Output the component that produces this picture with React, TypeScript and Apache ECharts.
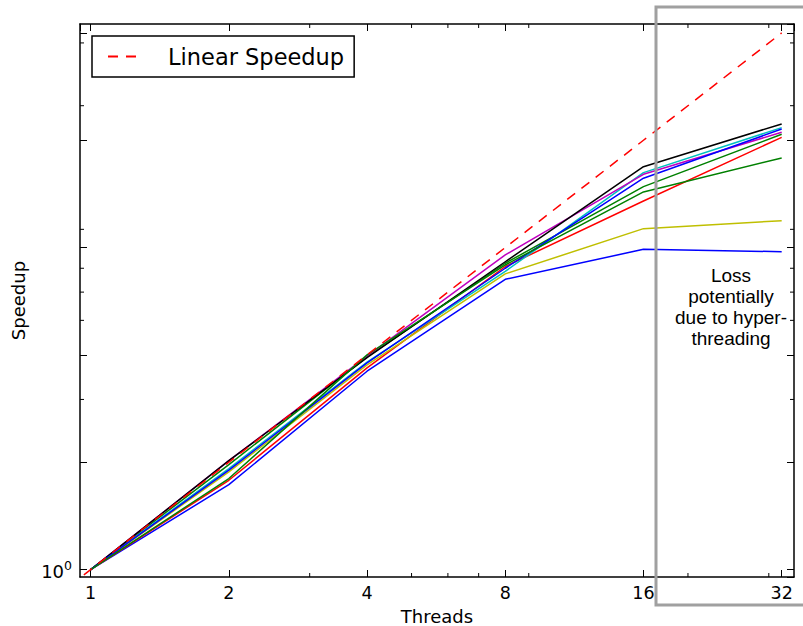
import React, { useEffect, useRef } from "react";
import * as echarts from "echarts";

// ---- data ----
const threads = [1, 2, 4, 8, 16, 32];
const linearThreads = [0.9, 1, 2, 4, 8, 16, 32];
const linearSpeedup = [0.9, 1, 2, 4, 8, 16, 32];

const blueA = [1, 1.73, 3.6, 6.52, 7.91, 7.79];
const greenA = [1, 1.97, 3.95, 7.23, 11.86, 16.63];
const redA = [1, 1.78, 3.68, 7.08, 10.81, 16.3];
const cyanA = [1, 1.92, 3.82, 6.86, 12.98, 17.36];
const magentaA = [1, 2.02, 3.97, 7.63, 12.84, 16.85];
const yellowA = [1, 1.88, 3.75, 6.75, 9.04, 9.52];
const blackA = [1, 2.02, 3.93, 7.3, 13.49, 17.78];
const blueB = [1, 1.9, 3.8, 7.0, 12.52, 17.2];
const greenB = [1, 1.8, 4.0, 7.15, 11.46, 14.27];

const seriesList = [
  { values: blueA, color: "#0000ff" },
  { values: greenA, color: "#008000" },
  { values: redA, color: "#ff0000" },
  { values: cyanA, color: "#00bfbf" },
  { values: magentaA, color: "#bf00bf" },
  { values: yellowA, color: "#bfbf00" },
  { values: blackA, color: "#000000" },
  { values: blueB, color: "#0000ff" },
  { values: greenB, color: "#008000" },
];

const minorTicks = [3, 5, 6, 7, 9, 20, 30];
const xLabelText = "Threads";
const yLabelText = "Speedup";
const legendText = "Linear Speedup";
const noteText = "Loss\npotentially\ndue to hyper-\nthreading";

const X_MIN = 0.948;
const X_MAX = 34.04;
const Y_MIN = 0.953;
const Y_MAX = 33.9;

const isPow2 = (v: number) => {
  const l = Math.log2(v);
  return Math.abs(l - Math.round(l)) < 1e-6;
};

export default function App() {
  const ref = useRef<HTMLDivElement>(null);
  useEffect(() => {
    if (!ref.current) return;
    const chart = echarts.init(ref.current, null, { renderer: "svg" });
    const tickFont = { fontFamily: "DejaVu Sans", fontSize: 17.5, color: "#000" };
    const axisLine = { show: true, lineStyle: { color: "#000", width: 1.5 } };
    const baseX = {
      type: "log" as const,
      logBase: 2,
      min: X_MIN,
      max: X_MAX,
      splitLine: { show: false },
      axisLine,
      axisTick: { inside: true, length: 7, lineStyle: { color: "#000", width: 1 } },
    };
    const baseY = {
      type: "log" as const,
      logBase: 2,
      min: Y_MIN,
      max: Y_MAX,
      splitLine: { show: false },
      axisLine,
      axisTick: { inside: true, length: 7, lineStyle: { color: "#000", width: 1 } },
    };
    const option: any = {
      animation: false,
      backgroundColor: "#fff",
      grid: { left: 80, right: 9, top: 24, bottom: 49, outerBoundsMode: "none", containLabel: false },
      legend: {
        data: [legendText],
        left: 92,
        top: 36,
        padding: [9, 10, 9, 15],
        itemWidth: 30,
        itemHeight: 14,
        borderColor: "#000",
        borderWidth: 1.5,
        borderRadius: 0,
        itemStyle: { opacity: 0 },
        textStyle: {
          fontFamily: "DejaVu Sans",
          fontStyle: "normal",
          fontWeight: "normal",
          fontSize: 22.5,
          color: "#000",
          padding: [0, 0, 0, 25],
        },
      },
      xAxis: [
        {
          ...baseX,
          position: "bottom",
          name: xLabelText,
          nameLocation: "middle",
          nameGap: 30,
          nameTextStyle: { fontFamily: "DejaVu Sans", fontSize: 18, color: "#000" },
          axisLabel: {
            ...tickFont,
            margin: 7,
            showMinLabel: false,
            showMaxLabel: false,
            formatter: (v: number) => (isPow2(v) ? String(Math.round(v)) : ""),
          },
        },
        { ...baseX, position: "top", axisLabel: { show: false } },
      ],
      yAxis: [
        {
          ...baseY,
          position: "left",
          name: yLabelText,
          nameLocation: "middle",
          nameGap: 53,
          nameRotate: 90,
          nameTextStyle: { fontFamily: "DejaVu Sans", fontSize: 18, color: "#000" },
          axisLabel: {
            margin: 8,
            showMinLabel: false,
            showMaxLabel: false,
            formatter: (v: number) => (Math.abs(v - 1) < 1e-6 ? "{a|10}{b|0}" : ""),
            rich: {
              a: { fontFamily: "DejaVu Sans", fontSize: 18, color: "#000", lineHeight: 22, verticalAlign: "bottom" },
              b: { fontFamily: "DejaVu Sans", fontSize: 12.5, color: "#000", lineHeight: 12, verticalAlign: "top" },
            },
          },
        },
        { ...baseY, position: "right", axisLabel: { show: false } },
      ],
      graphic: [
        {
          type: "rect",
          shape: { x: 656, y: 7, width: 200, height: 598 },
          style: { fill: "none", stroke: "#a0a0a0", lineWidth: 3 },
          z: 100,
          silent: true,
        },
        {
          type: "text",
          x: 731,
          y: 265,
          style: {
            text: noteText,
            fontFamily: "Liberation Sans",
            fontSize: 19,
            lineHeight: 21,
            fill: "#000",
            align: "center",
            verticalAlign: "top",
          },
          z: 100,
          silent: true,
        },
      ],
      series: [
        ...seriesList.map((s, i) => ({
          type: "line",
          name: "s" + i,
          data: threads.map((t, j) => [t, s.values[j]]),
          symbol: "none",
          lineStyle: { color: s.color, width: 1.5 },
          itemStyle: { color: s.color },
          z: 2,
        })),
        {
          type: "line",
          name: legendText,
          data: linearThreads.map((t, j) => [t, linearSpeedup[j]]),
          symbol: "none",
          lineStyle: { color: "#ff0000", width: 1.5, type: [10, 8] },
          itemStyle: { color: "#ff0000" },
          z: 3,
        },
        {
          type: "custom",
          silent: true,
          xAxisIndex: 0,
          yAxisIndex: 0,
          data: minorTicks.map((v) => [v, 1]),
          renderItem: (params: any, api: any) => {
            const p = api.coord([api.value(0), 1]);
            const cs = params.coordSys;
            const st = { stroke: "#000", lineWidth: 1 };
            return {
              type: "group",
              children: [
                { type: "line", shape: { x1: p[0], y1: cs.y + cs.height, x2: p[0], y2: cs.y + cs.height - 4 }, style: st },
                { type: "line", shape: { x1: p[0], y1: cs.y, x2: p[0], y2: cs.y + 4 }, style: st },
              ],
            };
          },
          z: 5,
        },
        {
          type: "custom",
          silent: true,
          xAxisIndex: 0,
          yAxisIndex: 0,
          data: minorTicks.map((v) => [1, v]),
          renderItem: (params: any, api: any) => {
            const p = api.coord([1, api.value(1)]);
            const cs = params.coordSys;
            const st = { stroke: "#000", lineWidth: 1 };
            return {
              type: "group",
              children: [
                { type: "line", shape: { x1: cs.x, y1: p[1], x2: cs.x + 4, y2: p[1] }, style: st },
                { type: "line", shape: { x1: cs.x + cs.width, y1: p[1], x2: cs.x + cs.width - 4, y2: p[1] }, style: st },
              ],
            };
          },
          z: 5,
        },
      ],
    };
    chart.setOption(option);
    return () => chart.dispose();
  }, []);
  return <div ref={ref} style={{ width: 803, height: 626, position: "absolute", left: 0, top: 0 }} />;
}
